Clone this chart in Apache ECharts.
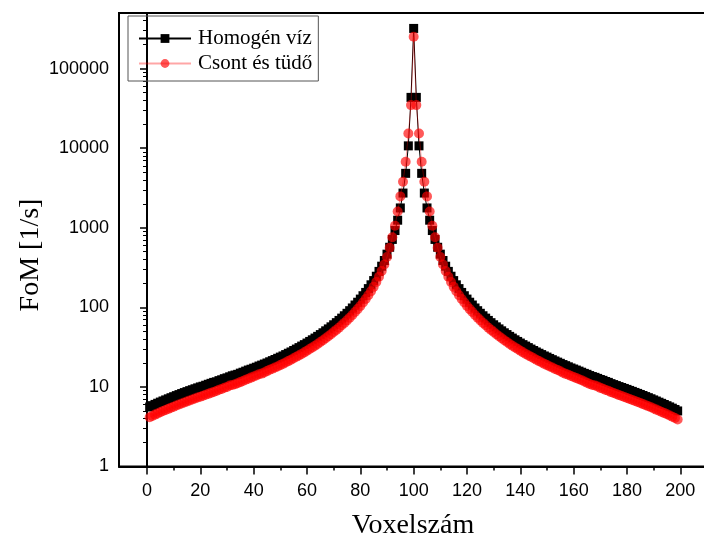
<!DOCTYPE html>
<html>
<head>
<meta charset="utf-8">
<script src="https://cdn.jsdelivr.net/npm/echarts@6/dist/echarts.min.js"></script>
<style>
  html, body { margin: 0; padding: 0; background: #fff; }
  #chart { width: 704px; height: 539px; }
</style>
</head>
<body>
<div id="chart"></div>
<script>
// Voxel numbers run from firstVoxel upward, one per value.
const firstVoxel = 1;

// Figure of merit per voxel, homogeneous water phantom.
const homogenViz = [
  5.59, 5.82, 6.03, 6.24, 6.45, 6.66, 6.87, 7.09, 7.32, 7.54,
  7.78, 8.01, 8.25, 8.49, 8.73, 8.98, 9.22, 9.48, 9.73, 10.0,
  10.2, 10.5, 10.8, 11.1, 11.4, 11.6, 12.0, 12.3, 12.7, 13.0,
  13.4, 13.8, 14.1, 14.4, 14.9, 15.3, 15.8, 16.3, 16.7, 17.2,
  17.7, 18.3, 18.8, 19.4, 20.0, 20.7, 21.4, 22.1, 22.9,
  23.7, 24.5, 25.5, 26.5, 27.5, 28.7, 29.9, 31.2, 32.6, 34.0,
  35.6, 37.3, 39.1, 41.1, 43.2, 45.5, 47.9, 50.7, 53.6, 56.9,
  60.4, 64.2, 68.5, 73.2, 78.4, 84.2, 90.8, 98.2, 107, 116,
  127, 140, 154, 172, 192, 217, 246, 283, 329, 388,
  466, 569, 714, 923, 1245, 1775, 2730, 4830, 10700, 43500,
  320000,
  43500, 10700, 4830, 2730, 1775, 1245, 923, 714, 569, 466,
  388, 329, 283, 246, 217, 192, 172, 154, 140, 127,
  116, 107, 98.2, 90.8, 84.2, 78.4, 73.2, 68.5, 64.2, 60.4,
  56.9, 53.6, 50.7, 47.9, 45.5, 43.2, 41.1, 39.1, 37.3, 35.6,
  34.0, 32.6, 31.2, 29.9, 28.7, 27.5, 26.5, 25.5, 24.5, 23.7,
  22.8, 22.0, 21.2, 20.5, 19.8, 19.1, 18.5, 17.9, 17.3, 16.8,
  16.3, 15.8, 15.3, 14.8, 14.4, 13.9, 13.5, 13.2, 12.8, 12.4,
  12.1, 11.7, 11.4, 11.0, 10.7, 10.4, 10.1, 9.84, 9.57, 9.31,
  9.04, 8.79, 8.53, 8.29, 8.04, 7.80, 7.56, 7.33, 7.10, 6.87,
  6.65, 6.43, 6.22, 6.01, 5.81, 5.61, 5.41, 5.21, 4.99
];

// Figure of merit per voxel, phantom with bone and lung inserts.
const csontTudo = [
  4.15, 4.32, 4.49, 4.65, 4.81, 4.97, 5.13, 5.30, 5.48, 5.65,
  5.83, 6.01, 6.20, 6.38, 6.57, 6.77, 6.95, 7.16, 7.35, 7.55,
  7.76, 7.98, 8.18, 8.42, 8.65, 8.89, 9.21, 9.44, 9.76, 9.99,
  10.4, 10.6, 10.8, 11.1, 11.5, 11.9, 12.3, 12.7, 13.1, 13.5,
  13.9, 14.4, 14.7, 15.2, 15.8, 16.4, 16.9, 17.5, 18.1,
  18.8, 19.5, 20.3, 21.1, 21.9, 22.9, 23.9, 24.9, 26.0, 27.2,
  28.5, 29.9, 31.4, 33.0, 34.7, 36.6, 38.6, 40.9, 43.3, 46.0,
  48.9, 52.1, 55.6, 59.5, 63.8, 68.6, 74.1, 80.2, 87.5, 95.0,
  104, 115, 127, 142, 159, 181, 208, 242, 286, 346,
  430, 560, 760, 1060, 1600, 2480, 3790, 6740, 15300, 34800,
  251000,
  34800, 15300, 6740, 3790, 2480, 1600, 1060, 760, 560, 430,
  346, 286, 242, 208, 181, 159, 142, 127, 115, 104,
  95.0, 87.5, 80.2, 74.1, 68.6, 63.8, 59.5, 55.6, 52.1, 48.9,
  46.0, 43.3, 40.9, 38.6, 36.6, 34.7, 33.0, 31.4, 29.9, 28.5,
  27.2, 26.0, 24.9, 23.9, 22.9, 21.9, 21.1, 20.3, 19.5, 18.8,
  18.1, 17.5, 16.8, 16.3, 15.7, 15.1, 14.6, 14.2, 13.7, 13.3,
  12.9, 12.5, 12.1, 11.7, 11.3, 10.9, 10.6, 10.4, 10.1, 9.73,
  9.49, 9.17, 8.93, 8.61, 8.37, 8.13, 7.89, 7.69, 7.47, 7.26,
  7.05, 6.86, 6.65, 6.47, 6.27, 6.08, 5.90, 5.72, 5.54, 5.36,
  5.19, 5.02, 4.85, 4.69, 4.53, 4.38, 4.22, 4.06, 3.89
];

const seriesNames = ['Homogén víz', 'Csont és tüdő'];
const xTitle = 'Voxelszám';
const yTitle = 'FoM [1/s]';

// Axis ticks
const xMajorTicks = [0, 20, 40, 60, 80, 100, 120, 140, 160, 180, 200];
const xMinorTicks = [10, 30, 50, 70, 90, 110, 130, 150, 170, 190];
const yMajorTicks = [1, 10, 100, 1000, 10000, 100000];
const yMinorTicks = [
  2, 3, 4, 5, 6, 7, 8, 9,
  20, 30, 40, 50, 60, 70, 80, 90,
  200, 300, 400, 500, 600, 700, 800, 900,
  2000, 3000, 4000, 5000, 6000, 7000, 8000, 9000,
  20000, 30000, 40000, 50000, 60000, 70000, 80000, 90000,
  200000, 300000, 400000
];

const toPairs = arr => arr.map((v, i) => [firstVoxel + i, v]);

const serif = 'Liberation Serif, Times New Roman, serif';
const labelFont = { fontFamily: 'Liberation Sans, Arial, sans-serif', fontSize: 18, color: '#000' };
const titleFont = { fontFamily: serif, fontSize: 28, color: '#000' };

const chart = echarts.init(document.getElementById('chart'), null, { renderer: 'canvas' });

chart.setOption({
  animation: false,
  backgroundColor: '#fff',
  grid: {
    left: 119, top: 13, width: 588, height: 453.5,
    outerBoundsMode: 'none', containLabel: false,
    show: true, borderColor: '#000', borderWidth: 2, backgroundColor: 'transparent'
  },
  legend: {
    left: 128, top: 16,
    orient: 'vertical',
    padding: [12, 6, 7, 10],
    itemGap: 4,
    itemWidth: 52, itemHeight: 11,
    borderColor: '#555', borderWidth: 1,
    textStyle: { fontFamily: serif, fontSize: 21, color: '#000', padding: [0, 0, 0, 2] },
    data: seriesNames
  },
  graphic: [
    {
      type: 'text', x: 31, y: 255, rotation: Math.PI / 2,
      style: { text: yTitle, font: '28px ' + serif, fill: '#000', align: 'center', verticalAlign: 'middle' }
    }
  ],
  xAxis: [
    {
      type: 'value', min: -10.5, max: 210,
      name: xTitle, nameLocation: 'middle', nameGap: 45,
      nameTextStyle: titleFont,
      axisLine: { lineStyle: { color: '#000', width: 2 } },
      axisTick: { show: true, length: 8, lineStyle: { color: '#000', width: 1.5 }, customValues: xMajorTicks },
      axisLabel: { ...labelFont, margin: 16, customValues: xMajorTicks },
      splitLine: { show: false }
    },
    {
      type: 'value', min: -10.5, max: 210, position: 'bottom',
      axisLine: { show: false },
      axisTick: { show: true, length: 4, lineStyle: { color: '#000', width: 1.5 }, customValues: xMinorTicks },
      axisLabel: { show: false },
      splitLine: { show: false }
    }
  ],
  yAxis: [
    {
      type: 'log', min: 1, max: 500000, logBase: 10,
      axisLine: { lineStyle: { color: '#000', width: 2 } },
      axisTick: { show: true, length: 7, lineStyle: { color: '#000', width: 1.5 }, customValues: yMajorTicks },
      axisLabel: { ...labelFont, margin: 10, customValues: yMajorTicks, formatter: v => String(Math.round(v)) },
      splitLine: { show: false },
      minorTick: { show: false }
    },
    {
      type: 'log', min: 1, max: 500000, logBase: 10, position: 'left',
      axisLine: { show: false },
      axisTick: { show: true, length: 4, lineStyle: { color: '#000', width: 1 }, customValues: yMinorTicks },
      axisLabel: { show: false },
      splitLine: { show: false }
    }
  ],
  series: [
    {
      name: seriesNames[0], type: 'line',
      data: toPairs(homogenViz),
      symbol: 'rect', symbolSize: 9, showAllSymbol: true,
      lineStyle: { color: '#000', width: 1 },
      itemStyle: { color: '#000' },
      z: 2
    },
    {
      name: seriesNames[1], type: 'line',
      data: toPairs(csontTudo),
      symbol: 'circle', symbolSize: 10, showAllSymbol: true,
      lineStyle: { color: 'rgba(255,0,0,0.35)', width: 1 },
      itemStyle: { color: 'rgba(255,0,0,0.65)' },
      z: 3
    }
  ]
});
</script>
</body>
</html>
